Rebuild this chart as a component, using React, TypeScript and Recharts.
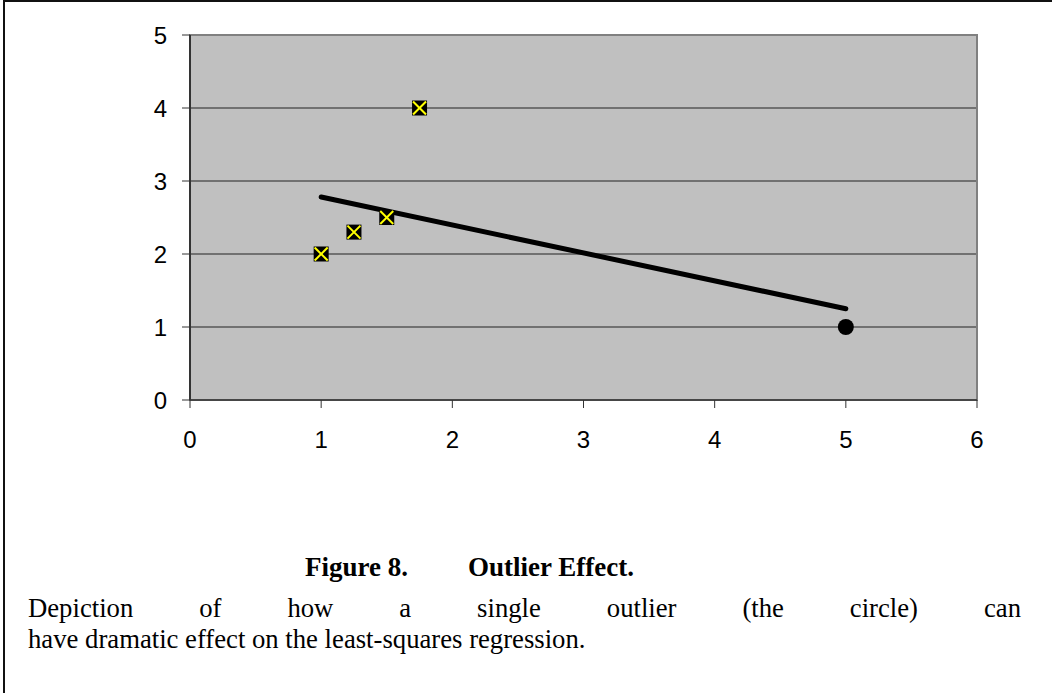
import { CartesianGrid, ReferenceArea, Scatter, ScatterChart, XAxis, YAxis } from "recharts";

// cluster of points (drawn with X markers)
const clusterX = [1, 1.25, 1.5, 1.75];
const clusterY = [2, 2.3, 2.5, 4];

// the single outlier (circle)
const outlierX = [5];
const outlierY = [1];

// least-squares trendline endpoints
const trendX = [1, 5];
const trendY = [2.78, 1.25];

const xTicks = [0, 1, 2, 3, 4, 5, 6];
const yTicks = [0, 1, 2, 3, 4, 5];

const cluster = clusterX.map((x, i) => ({ x, y: clusterY[i] }));
const outlier = outlierX.map((x, i) => ({ x, y: outlierY[i] }));
const trend = trendX.map((x, i) => ({ x, y: trendY[i] }));

const sans = "'Liberation Sans', Arial, sans-serif";
const serif = "'Liberation Serif', 'Times New Roman', serif";

const XMarker = (props: any) => {
  const { cx, cy } = props;
  const h = 7.5;
  return (
    <g>
      <rect x={cx - h} y={cy - h} width={h * 2} height={h * 2} fill="#000" />
      <line x1={cx - h + 1} y1={cy - h + 1} x2={cx + h - 1} y2={cy + h - 1} stroke="#FFFF00" strokeWidth={2} />
      <line x1={cx - h + 1} y1={cy + h - 1} x2={cx + h - 1} y2={cy - h + 1} stroke="#FFFF00" strokeWidth={2} />
    </g>
  );
};

const Dot = (props: any) => <circle cx={props.cx} cy={props.cy} r={8} fill="#000" />;

const NoShape = () => <g />;

const XTick = (props: any) => {
  const { x, y, payload } = props;
  return (
    <text x={x} y={y + 38} textAnchor="middle" fontSize={24} fontFamily={sans} fill="#000">
      {payload.value}
    </text>
  );
};

const YTick = (props: any) => {
  const { x, y, payload } = props;
  return (
    <text x={x - 13} y={y + 8.5} textAnchor="end" fontSize={24} fontFamily={sans} fill="#000">
      {payload.value}
    </text>
  );
};

export default function App() {
  return (
    <div
      style={{
        position: "absolute",
        left: 0,
        top: 0,
        width: 1052,
        height: 693,
        background: "#fff",
        overflow: "hidden",
      }}
    >
      <div
        style={{
          position: "absolute",
          left: 3,
          top: 0,
          width: 1100,
          height: 720,
          borderLeft: "2px solid #111",
          borderTop: "2px solid #111",
          boxSizing: "border-box",
        }}
      />
      <div style={{ position: "absolute", left: 0, top: 0 }}>
        <ScatterChart width={1052} height={470} margin={{ top: 35, right: 75, left: 0, bottom: 0 }}>
          <CartesianGrid fill="#C0C0C0" vertical={false} stroke="#222" strokeWidth={1} fillOpacity={1} />
          <XAxis
            type="number"
            dataKey="x"
            domain={[0, 6]}
            ticks={xTicks}
            allowDataOverflow
            height={70}
            tickSize={8}
            axisLine={{ stroke: "#333", strokeWidth: 1.5 }}
            tickLine={{ stroke: "#333" }}
            tick={XTick}
          />
          <YAxis
            type="number"
            dataKey="y"
            domain={[0, 5]}
            ticks={yTicks}
            allowDataOverflow
            width={190}
            tickSize={8}
            axisLine={{ stroke: "#333", strokeWidth: 2 }}
            tickLine={{ stroke: "#333" }}
            tick={YTick}
          />
          <ReferenceArea x1={0} x2={6} y1={0} y2={5} fill="none" stroke="#808080" strokeWidth={2} ifOverflow="visible" />
          <Scatter
            data={trend}
            line={{ stroke: "#000", strokeWidth: 5, strokeLinecap: "round" }}
            shape={NoShape}
            isAnimationActive={false}
          />
          <Scatter data={cluster} shape={XMarker} isAnimationActive={false} />
          <Scatter data={outlier} shape={Dot} isAnimationActive={false} />
        </ScatterChart>
      </div>
      <div
        style={{
          position: "absolute",
          left: 305,
          top: 552,
          fontFamily: serif,
          fontWeight: "bold",
          fontSize: 27,
          lineHeight: "31px",
          color: "#000",
          whiteSpace: "nowrap",
        }}
      >
        Figure 8.
      </div>
      <div
        style={{
          position: "absolute",
          left: 468,
          top: 552,
          fontFamily: serif,
          fontWeight: "bold",
          fontSize: 27,
          lineHeight: "31px",
          color: "#000",
          whiteSpace: "nowrap",
        }}
      >
        Outlier Effect.
      </div>
      <div
        style={{
          position: "absolute",
          left: 28,
          top: 593,
          width: 993,
          fontFamily: serif,
          fontSize: 26.7,
          lineHeight: "31px",
          color: "#000",
        }}
      >
        <div style={{ textAlign: "justify", textAlignLast: "justify" }}>
          Depiction of how a single outlier (the circle) can
        </div>
        <div>have dramatic effect on the least-squares regression.</div>
      </div>
    </div>
  );
}
